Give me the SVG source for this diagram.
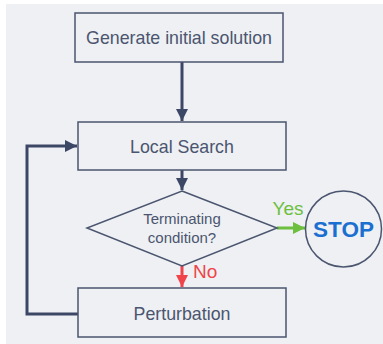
<svg xmlns="http://www.w3.org/2000/svg" width="383" height="344" viewBox="0 0 383 344">
<style>
.box{fill:#eef0f3;stroke:#4b556f;stroke-width:1.5}
.lbl{font-family:"Liberation Sans",Arial,sans-serif;fill:#4b556f;text-anchor:middle}
.conn{fill:none;stroke:#3c4766;stroke-width:3}
</style>
<defs>
<marker id="ah" viewBox="0 0 10 10" refX="10" refY="5" markerWidth="4" markerHeight="4" orient="auto" markerUnits="strokeWidth"><path d="M0,0L10,5L0,10z" fill="#3c4766"/></marker>
<marker id="ahg" viewBox="0 0 10 10" refX="10" refY="5" markerWidth="4" markerHeight="4" orient="auto" markerUnits="strokeWidth"><path d="M0,0L10,5L0,10z" fill="#6cbf3f"/></marker>
<marker id="ahr" viewBox="0 0 10 10" refX="10" refY="5" markerWidth="4" markerHeight="4" orient="auto" markerUnits="strokeWidth"><path d="M0,0L10,5L0,10z" fill="#f0434a"/></marker>
</defs>
<rect x="6" y="4" width="377" height="340" fill="#eef0f3"/>
<g id="connectors">
<path class="conn" d="M182,62V121" marker-end="url(#ah)"/>
<path class="conn" d="M182,170V190" marker-end="url(#ah)"/>
<path class="conn" d="M277,228H305" style="stroke:#6cbf3f" marker-end="url(#ahg)"/>
<path class="conn" d="M182,266V287" style="stroke:#f0434a" marker-end="url(#ahr)"/>
<path class="conn" d="M78,314H27V146H77" marker-end="url(#ah)"/>
<text x="288" y="215" class="lbl" style="fill:#6cbf3f;font-size:19px">Yes</text>
<text x="193" y="278" style="font-family:'Liberation Sans',Arial,sans-serif;fill:#f0434a;font-size:19px">No</text>
</g>
<g id="generate">
<rect class="box" x="75" y="13" width="208" height="49"/>
<text class="lbl" x="179" y="44" font-size="17.8">Generate initial solution</text>
</g>
<g id="local-search">
<rect class="box" x="78" y="122" width="208" height="48"/>
<text class="lbl" x="182" y="153" font-size="17.8">Local Search</text>
</g>
<g id="terminating">
<path class="box" d="M182,191L277,228L182,266L87,228Z"/>
<text class="lbl" x="182" y="224" font-size="15">Terminating</text>
<text class="lbl" x="182" y="243" font-size="15">condition?</text>
</g>
<g id="stop">
<circle class="box" cx="343.5" cy="229" r="38"/>
<text x="343.5" y="237" font-family="Liberation Sans,Arial,sans-serif" font-weight="bold" font-size="22.5" fill="#1a6fd0" text-anchor="middle">STOP</text>
</g>
<g id="perturbation">
<rect class="box" x="78" y="288" width="208" height="49"/>
<text class="lbl" x="182" y="320" font-size="17.8">Perturbation</text>
</g>
</svg>
